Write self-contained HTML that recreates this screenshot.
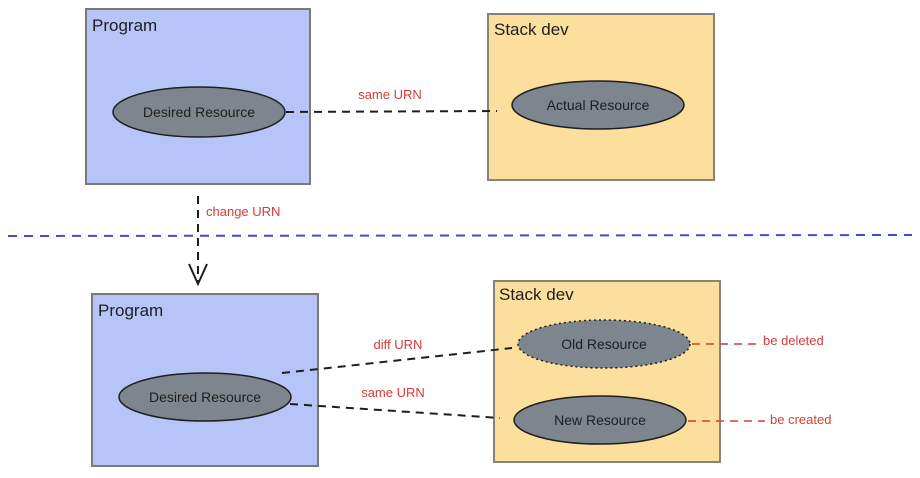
<!DOCTYPE html>
<html><head><meta charset="utf-8"><style>
html,body{margin:0;padding:0;background:#fff;width:920px;height:478px;overflow:hidden}
svg text{font-family:"Liberation Sans",sans-serif}
.t{font-size:17px;fill:#1e1e1e}
.e{font-size:14px;fill:#1e1e1e}
.r{font-size:13px;fill:#d63a3a}
</style></head><body>
<svg width="920" height="478" viewBox="0 0 920 478" xmlns="http://www.w3.org/2000/svg">
<!-- top -->
<rect x="86" y="9" width="224" height="175" fill="#b6c4f7" stroke="#7a7a7a" stroke-width="2"/>
<text x="92" y="31" class="t">Program</text>
<rect x="488" y="14" width="226" height="166" fill="#fcdf9d" stroke="#8a8278" stroke-width="2"/>
<text x="494" y="35" class="t">Stack dev</text>
<ellipse cx="199" cy="112" rx="86" ry="25" fill="#7d868e" stroke="#1e1e1e" stroke-width="1.5"/>
<text x="199" y="117" class="e" text-anchor="middle">Desired Resource</text>
<ellipse cx="598" cy="105" rx="86" ry="24" fill="#7d868e" stroke="#1e1e1e" stroke-width="1.5"/>
<text x="598" y="110" class="e" text-anchor="middle">Actual Resource</text>
<line x1="286" y1="112" x2="497" y2="111" stroke="#1e1e1e" stroke-width="2" stroke-dasharray="8 6"/>
<text x="390" y="99" class="r" text-anchor="middle">same URN</text>
<line x1="198" y1="196" x2="198" y2="282" stroke="#1e1e1e" stroke-width="2" stroke-dasharray="8 6"/>
<polyline points="189,264 198,284 207,264" fill="none" stroke="#1e1e1e" stroke-width="2"/>
<text x="206" y="216" class="r">change URN</text>
<line x1="8" y1="236" x2="912" y2="235" stroke="#3a4fd0" stroke-width="2" stroke-dasharray="9 7"/>
<!-- bottom -->
<rect x="92" y="294" width="226" height="172" fill="#b6c4f7" stroke="#7a7a7a" stroke-width="2"/>
<text x="98" y="316" class="t">Program</text>
<rect x="494" y="281" width="226" height="181" fill="#fcdf9d" stroke="#8a8278" stroke-width="2"/>
<text x="499" y="300" class="t">Stack dev</text>
<ellipse cx="205" cy="397" rx="86" ry="24" fill="#7d868e" stroke="#1e1e1e" stroke-width="1.5"/>
<text x="205" y="402" class="e" text-anchor="middle">Desired Resource</text>
<ellipse cx="604" cy="344" rx="86" ry="24" fill="#7d868e" stroke="#1e1e1e" stroke-width="1.5" stroke-dasharray="2 3"/>
<text x="604" y="349" class="e" text-anchor="middle">Old Resource</text>
<ellipse cx="600" cy="420" rx="86" ry="24" fill="#7d868e" stroke="#1e1e1e" stroke-width="1.5"/>
<text x="600" y="425" class="e" text-anchor="middle">New Resource</text>
<line x1="282" y1="373" x2="512" y2="348" stroke="#1e1e1e" stroke-width="2" stroke-dasharray="8 6"/>
<text x="398" y="349" class="r" text-anchor="middle">diff URN</text>
<line x1="290" y1="404" x2="500" y2="418" stroke="#1e1e1e" stroke-width="2" stroke-dasharray="8 6"/>
<text x="393" y="397" class="r" text-anchor="middle">same URN</text>
<line x1="692" y1="344" x2="758" y2="344" stroke="#d63a3a" stroke-width="1.5" stroke-dasharray="8 6"/>
<text x="763" y="345" class="r">be deleted</text>
<line x1="688" y1="421" x2="765" y2="421" stroke="#d63a3a" stroke-width="1.5" stroke-dasharray="8 6"/>
<text x="770" y="424" class="r">be created</text>
</svg>
</body></html>
